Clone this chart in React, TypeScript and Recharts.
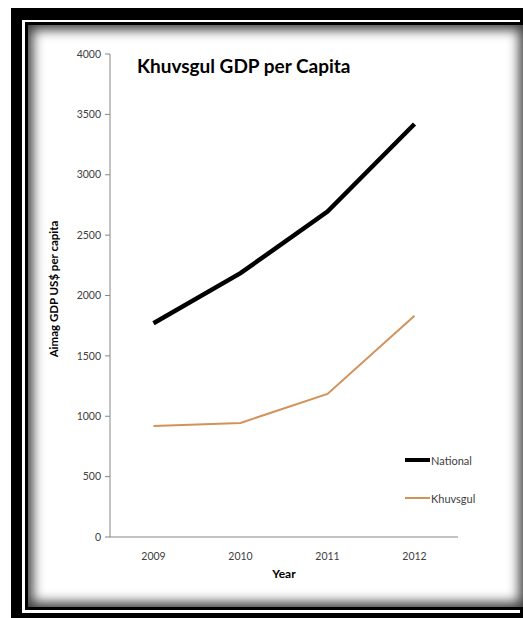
import React from "react";
import { LineChart, Line, XAxis, YAxis, Legend } from "recharts";

const years = [2009, 2010, 2011, 2012];
const national = [1770, 2185, 2695, 3420];
const khuvsgul = [920, 945, 1185, 1832];
const yTicks = [0, 500, 1000, 1500, 2000, 2500, 3000, 3500, 4000];
const yearEdges = [2008.5, 2009.5, 2010.5, 2011.5, 2012.5];
const seriesOrder = ["National", "Khuvsgul"];

const data = years.map((year, i) => ({
  year,
  National: national[i],
  Khuvsgul: khuvsgul[i],
}));

const FONT = "Lato, 'Open Sans', sans-serif";
const AXIS = "#868686";
const TEXT = "#404040";
const widths: Record<string, number> = { National: 4.5, Khuvsgul: 2 };

const renderLegend = (props: any) => {
  const items = [...(props.payload || [])].sort(
    (a: any, b: any) => seriesOrder.indexOf(a.value) - seriesOrder.indexOf(b.value)
  );
  return (
    <div style={{ fontFamily: FONT }}>
      {items.map((p: any) => (
        <div key={p.value} style={{ display: "flex", alignItems: "center", height: 38 }}>
          <span style={{ width: 25, height: widths[p.value], background: p.color, display: "inline-block" }} />
          <span style={{ fontSize: 11, color: TEXT, marginLeft: 1 }}>{p.value}</span>
        </div>
      ))}
    </div>
  );
};

export default function App() {
  return (
    <div style={{ position: "relative", width: 523, height: 618, overflow: "hidden", background: "#fff" }}>
      <style>{"body{margin:0}"}</style>
      {/* frame */}
      <div style={{ position: "absolute", left: 11, top: 8, width: 540, height: 640, background: "#000" }} />
      <div style={{ position: "absolute", left: 22, top: 20, width: 498, height: 593, background: "#fff" }} />
      <div
        style={{
          position: "absolute",
          left: 25,
          top: 22,
          width: 496,
          height: 582,
          background: "#fff",
          border: "3px solid #000",
          boxShadow: "inset 0 0 12px 5px rgba(0,0,0,0.75)",
        }}
      />

      <div style={{ position: "absolute", left: 0, top: 0 }}>
        <LineChart width={523} height={618} data={data} margin={{ top: 54, right: 65, bottom: 51, left: 70 }}>
          <XAxis
            xAxisId="edges"
            type="number"
            domain={[2008.5, 2012.5]}
            ticks={yearEdges}
            tick={false}
            tickSize={5}
            tickLine={{ stroke: AXIS }}
            axisLine={false}
            height={0}
            allowDataOverflow
          />
          <XAxis
            xAxisId="main"
            type="number"
            dataKey="year"
            domain={[2008.5, 2012.5]}
            ticks={years}
            tickLine={false}
            axisLine={{ stroke: AXIS }}
            tick={{ fill: TEXT, fontSize: 10.5, fontFamily: FONT }}
            tickMargin={10}
            height={30}
            allowDataOverflow
          />
          <YAxis
            domain={[0, 4000]}
            ticks={yTicks}
            width={40}
            tickSize={5}
            tickLine={{ stroke: AXIS }}
            axisLine={{ stroke: AXIS }}
            tick={{ fill: TEXT, fontSize: 10.5, fontFamily: FONT }}
            tickMargin={4}
          />
          <Legend
            layout="vertical"
            align="center"
            verticalAlign="middle"
            content={renderLegend}
            wrapperStyle={{ left: 405, top: 441, width: 100 }}
          />
          <Line
            xAxisId="main"
            dataKey="National"
            stroke="#000"
            strokeWidth={4.5}
            dot={false}
            isAnimationActive={false}
          />
          <Line
            xAxisId="main"
            dataKey="Khuvsgul"
            stroke="#d39258"
            strokeWidth={2}
            dot={false}
            isAnimationActive={false}
          />
        </LineChart>
      </div>

      <div
        style={{
          position: "absolute",
          left: 137,
          top: 54,
          fontFamily: FONT,
          fontWeight: 700,
          fontSize: 19,
          color: "#000",
          whiteSpace: "nowrap",
        }}
      >
        Khuvsgul GDP per Capita
      </div>
      <div
        style={{
          position: "absolute",
          left: 53,
          top: 289,
          transform: "translate(-50%, -50%) rotate(-90deg)",
          fontFamily: FONT,
          fontWeight: 700,
          fontSize: 11.5,
          color: "#000",
          whiteSpace: "nowrap",
        }}
      >
        Aimag GDP US$ per capita
      </div>
      <div
        style={{
          position: "absolute",
          left: 284,
          top: 573,
          transform: "translate(-50%, -50%)",
          fontFamily: FONT,
          fontWeight: 700,
          fontSize: 12,
          color: "#000",
        }}
      >
        Year
      </div>
    </div>
  );
}
